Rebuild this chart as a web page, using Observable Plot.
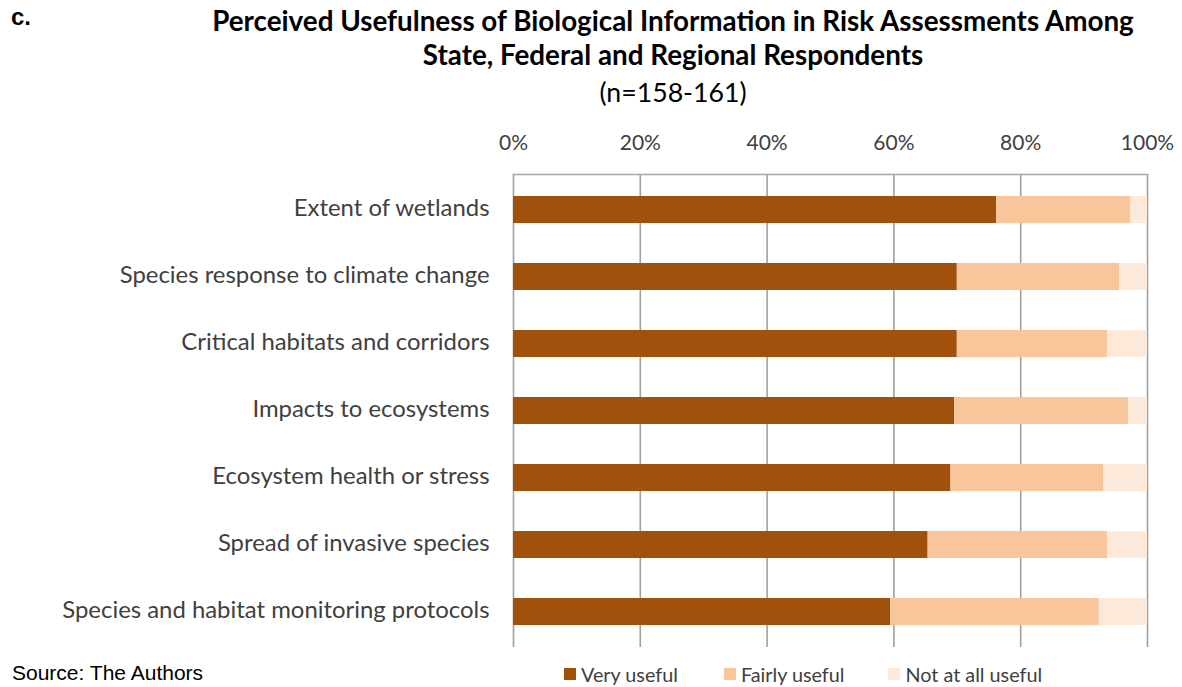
<!DOCTYPE html>
<html>
<head>
<meta charset="utf-8">
<script src="https://cdn.jsdelivr.net/npm/d3@7"></script>
<script src="https://cdn.jsdelivr.net/npm/@observablehq/plot@0.6"></script>
<style>
  html, body { margin: 0; padding: 0; background: #fff; }
  #wrap { position: relative; width: 1182px; height: 687px; overflow: hidden; font-family: Lato, "Open Sans", sans-serif; }
  .abs { position: absolute; }
  #letter { left: 11px; top: 5px; font: bold 24px/24px "Liberation Sans", Arial, sans-serif; color: #000; }
  #title { left: 0; width: 1346px; top: 4px; text-align: center; font-weight: bold; font-size: 27.8px; line-height: 34px; color: #000; white-space: nowrap; }
  #sub { left: 0; width: 1346px; top: 76px; text-align: center; font-size: 26.7px; color: #000; }
  #source { left: 12px; top: 661px; font: 21px "Liberation Sans", Arial, sans-serif; color: #000; }
  #legend { left: 564px; top: 662px; font-size: 19.8px; line-height: 24px; color: #404040; display: flex; }
  .li { display: flex; align-items: center; }
  .sw { width: 12px; height: 12px; margin-right: 5px; flex: none; }
  #chart { left: 0; top: 110px; }
</style>
</head>
<body>
<div id="wrap">
  <div id="letter" class="abs">c.</div>
  <div id="title" class="abs">Perceived Usefulness of Biological Information in Risk Assessments Among<br>State, Federal and Regional Respondents</div>
  <div id="sub" class="abs">(n=158-161)</div>
  <div id="chart" class="abs"></div>
  <div id="legend" class="abs"></div>
  <div id="source" class="abs">Source: The Authors</div>
</div>
<script>
const categories = [
  "Extent of wetlands",
  "Species response to climate change",
  "Critical habitats and corridors",
  "Impacts to ecosystems",
  "Ecosystem health or stress",
  "Spread of invasive species",
  "Species and habitat monitoring protocols"
];
const series = ["Very useful", "Fairly useful", "Not at all useful"];
const colors = ["#A0520C", "#F9C59A", "#FDE9D9"];
const veryUseful   = [76.2, 70.0, 70.0, 69.6, 69.0, 65.4, 59.5];
const fairlyUseful = [21.2, 25.6, 23.7, 27.4, 24.1, 28.3, 32.9];
const notUseful    = [2.6, 4.4, 6.3, 3.0, 6.9, 6.3, 7.6];
const xTicks = [0, 20, 40, 60, 80, 100];

const values = [veryUseful, fairlyUseful, notUseful];
const data = categories.flatMap((c, i) =>
  series.map((s, j) => ({category: c, response: s, value: values[j][i]}))
);

const chart = Plot.plot({
  width: 1182,
  height: 537,
  marginTop: 64,
  marginBottom: 0,
  marginLeft: 513,
  marginRight: 35,
  style: {fontFamily: "Lato, 'Open Sans', sans-serif", fontSize: "20px", color: "#404040", background: "transparent"},
  x: {domain: [0, 100], ticks: xTicks, label: null},
  y: {domain: categories, paddingInner: 0.6, paddingOuter: 0.3, label: null},
  color: {domain: series, range: colors},
  marks: [
    Plot.ruleX(xTicks, {stroke: "#a0a0a0", strokeWidth: 1.6}),
    Plot.frame({anchor: "top", stroke: "#a6a6a6", strokeWidth: 1.6}),
    Plot.barX(data, Plot.stackX({x: "value", y: "category", fill: "response", order: series})),
    Plot.axisX(xTicks, {anchor: "top", label: null, tickSize: 0, tickPadding: 25, tickFormat: d => d + "%", fill: "#404040", fontSize: 21}),
    Plot.axisY({label: null, tickSize: 0, tickPadding: 24, fill: "#404040", fontSize: 23.9, dy: -2})
  ]
});
document.getElementById("chart").appendChild(chart);

const legend = document.getElementById("legend");
const gaps = [0, 46, 44];
series.forEach((s, i) => {
  const item = document.createElement("div");
  item.className = "li";
  item.style.marginLeft = gaps[i] + "px";
  const sw = document.createElement("span");
  sw.className = "sw";
  sw.style.background = colors[i];
  item.appendChild(sw);
  const t = document.createElement("span");
  t.textContent = s;
  item.appendChild(t);
  legend.appendChild(item);
});
</script>
</body>
</html>
